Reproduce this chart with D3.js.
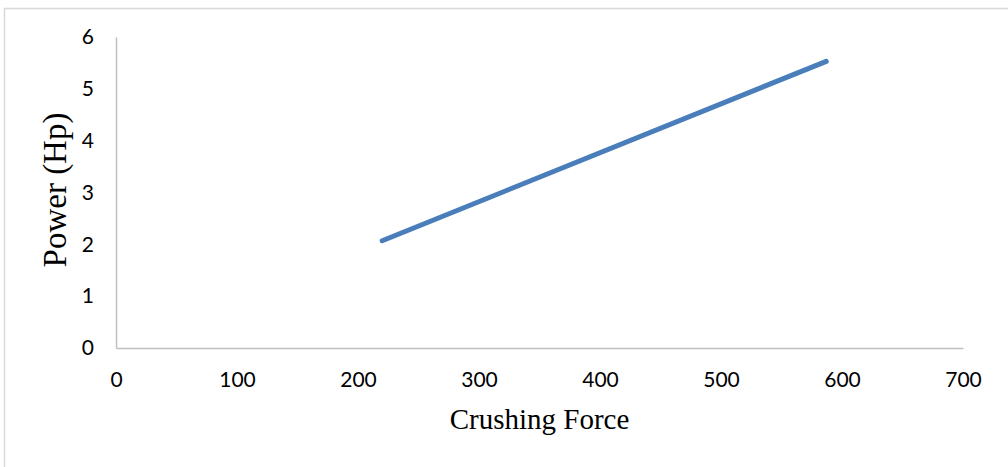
<!DOCTYPE html>
<html>
<head>
<meta charset="utf-8">
<script src="https://cdn.jsdelivr.net/npm/d3@7/dist/d3.min.js"></script>
<style>
  html, body { margin: 0; padding: 0; background: #fff; }
  svg { display: block; }
</style>
</head>
<body>
<svg id="chart" width="1008" height="467"></svg>
<script>
// Crushing force vs. required power
const crushingForce = [220, 587];
const powerHp = [2.07, 5.53];
const xTicks = [0, 100, 200, 300, 400, 500, 600, 700];
const yTicks = [0, 1, 2, 3, 4, 5, 6];

const svg = d3.select("#chart");
const W = 1008, H = 467;
const plot = { left: 116, right: 963, top: 37, bottom: 348 };

// frame around the chart area
svg.append("rect")
  .attr("x", 4.5).attr("y", 8.5)
  .attr("width", W + 50).attr("height", H + 50)
  .attr("fill", "none").attr("stroke", "#d9d9d9").attr("stroke-width", 1.5);

const x = d3.scaleLinear().domain([0, 700]).range([plot.left, plot.right]);
const y = d3.scaleLinear().domain([0, 6]).range([plot.bottom, plot.top]);

const tickFont = "Lato, 'Open Sans', sans-serif";

// x axis
const xAxis = svg.append("g")
  .attr("transform", `translate(0,${plot.bottom})`)
  .call(d3.axisBottom(x).tickValues(xTicks).tickSize(0).tickPadding(24).tickFormat(d3.format("d")));
xAxis.select(".domain").attr("stroke", "#bfbfbf").attr("stroke-width", 1.5);
xAxis.selectAll("text")
  .attr("font-family", tickFont).attr("font-size", 21).attr("fill", "#000");

// y axis
const yAxis = svg.append("g")
  .attr("transform", `translate(${plot.left},0)`)
  .call(d3.axisLeft(y).tickValues(yTicks).tickSize(0).tickPadding(22).tickFormat(d3.format("d")));
yAxis.select(".domain").attr("stroke", "#bfbfbf").attr("stroke-width", 1.5);
yAxis.selectAll("text")
  .attr("font-family", tickFont).attr("font-size", 21).attr("fill", "#000");

// data line
const pts = crushingForce.map((f, i) => [f, powerHp[i]]);
svg.append("path")
  .datum(pts)
  .attr("fill", "none")
  .attr("stroke", "#4a7ebb")
  .attr("stroke-width", 5)
  .attr("stroke-linecap", "round")
  .attr("d", d3.line().x(d => x(d[0])).y(d => y(d[1])));

// axis titles
svg.append("text")
  .attr("x", (plot.left + plot.right) / 2)
  .attr("y", 429)
  .attr("text-anchor", "middle")
  .attr("font-family", "'Liberation Serif', 'Times New Roman', serif")
  .attr("font-size", 29)
  .attr("fill", "#000")
  .text("Crushing Force");

svg.append("text")
  .attr("transform", "translate(66,190) rotate(-90)")
  .attr("text-anchor", "middle")
  .attr("font-family", "'Liberation Serif', 'Times New Roman', serif")
  .attr("font-size", 33)
  .attr("fill", "#000")
  .text("Power (Hp)");
</script>
</body>
</html>
